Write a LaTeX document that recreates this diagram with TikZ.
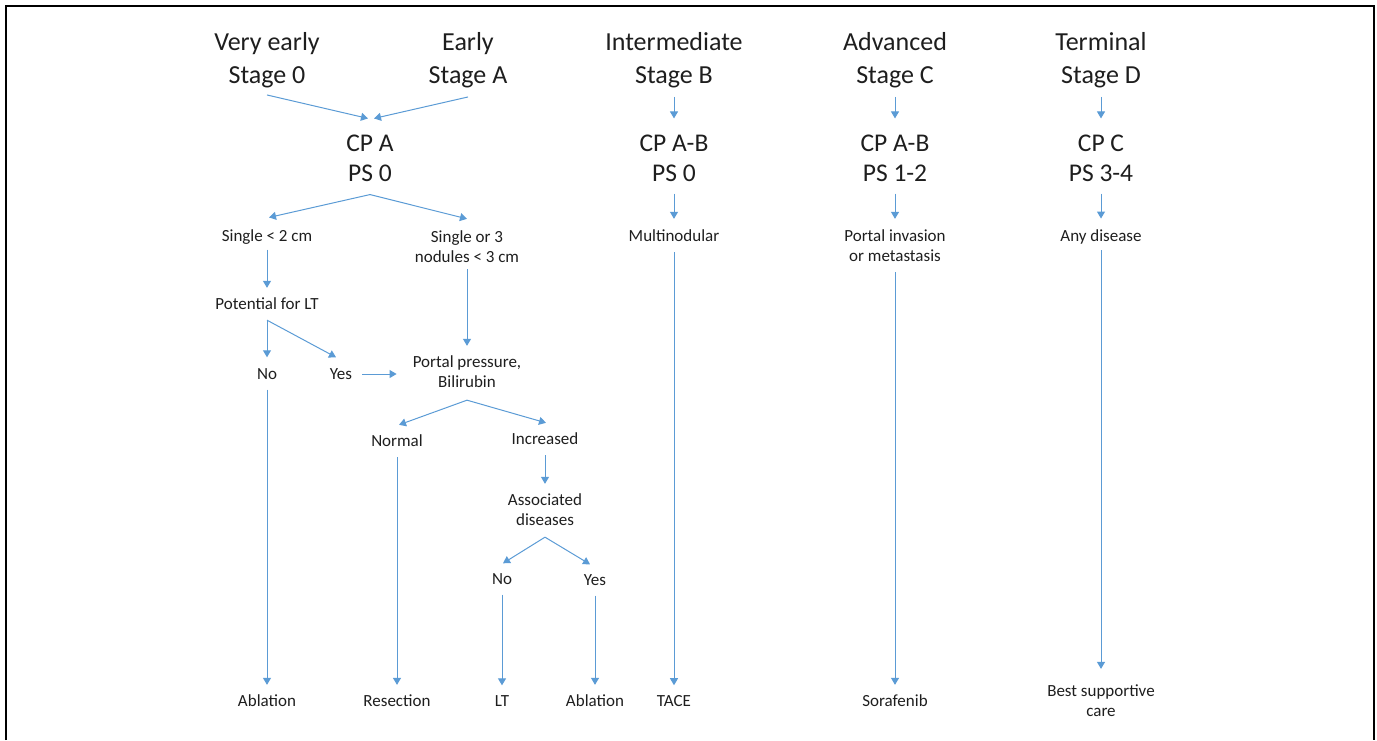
\documentclass[tikz,border=0pt]{standalone}
\usepackage{fontspec}
\setmainfont{Carlito}
\usepackage{xcolor}
\usetikzlibrary{arrows.meta,positioning,calc}
\definecolor{flowblue}{RGB}{91,155,213}
\definecolor{ink}{RGB}{30,30,30}

\begin{document}
\begin{tikzpicture}[x=1pt,y=-1pt,
    stage/.style={align=center,inner sep=0pt,text=ink,font=\fontsize{26}{33}\selectfont},
    cp/.style={align=center,inner sep=0pt,text=ink,font=\fontsize{25.5}{30}\selectfont},
    lbl/.style={align=center,inner sep=0pt,text=ink,font=\fontsize{17}{20}\selectfont},
    arr/.style={-{Triangle[length=7pt,width=8pt]},flowblue,line width=1pt,shorten <=10pt,shorten >=10pt},
    fork/.style={arr,shorten <=0pt,shorten >=0pt}]
    \useasboundingbox (0,0) rectangle (1377,740);
    \draw [line width=2pt] (6,740) -- (6,5.5) -- (1373.5,5.5) -- (1373.5,740); % frame

    % Stages
    \node [stage] (v0) at (267,60) {Very early\\Stage 0};
    \node [stage] (ea) at (468,60) {Early\\Stage A};
    \node [stage] (im) at (674,60) {Intermediate\\Stage B};
    \node [stage] (ad) at (895,60) {Advanced\\Stage C};
    \node [stage] (te) at (1101,60) {Terminal\\Stage D};

    % Child-Pugh and performance status
    \node [cp] (cpa) at (370,158) {CP A\\PS 0};
    \node [cp] (cpb) at (674,158) {CP A-B\\PS 0};
    \node [cp] (cpc) at (895,158) {CP A-B\\PS 1-2};
    \node [cp] (cpd) at (1101,158) {CP C\\PS 3-4};

    \draw [fork] ([yshift=-7pt]v0.south) -- ([xshift=-2pt,yshift=16pt]cpa.north);
    \draw [fork] ([yshift=-9pt]ea.south) -- ([xshift=4pt,yshift=16pt]cpa.north);
    \draw [arr, shorten <=9pt, shorten >=16pt] (im) -- (cpb);
    \draw [arr, shorten <=9pt, shorten >=16pt] (ad) -- (cpc);
    \draw [arr, shorten <=9pt, shorten >=16pt] (te) -- (cpd);

    % Early branch
    \node [lbl] (s2) at (267,237) {Single < 2 cm};
    \node [lbl] (s3) at (467,247) {Single or 3\\nodules < 3 cm};
    \node [lbl] (plt) at (267,304) {Potential for LT};
    \node [lbl] (no1) at (267,374) {No};
    \node [lbl] (yes1) at (341,374) {Yes};
    \node [lbl] (pp) at (467,372) {Portal pressure,\\Bilirubin};
    \node [lbl] (nor) at (397,441) {Normal};
    \node [lbl] (inc) at (545,439) {Increased};
    \node [lbl] (asd) at (545,510) {Associated\\diseases};
    \node [lbl] (no2) at (502,579) {No};
    \node [lbl] (yes2) at (595,580) {Yes};

    \draw [fork] ([yshift=-13pt]cpa.south) -- ([xshift=2pt,yshift=12pt]s2.north);
    \draw [fork] ([yshift=-13pt]cpa.south) -- ([yshift=12pt]s3.north);
    \draw [arr, shorten <=5pt] (s2) -- (plt);
    \draw [arr, shorten <=6pt] (s3) -- (pp);
    \draw [fork] ([yshift=-10pt]plt.south) -- ([yshift=11pt]no1.north);
    \draw [fork] ([yshift=-10pt]plt.south) -- ([xshift=-5pt,yshift=11pt]yes1.north);
    \draw [arr, shorten >=16pt] (yes1.east) -- (yes1.east -| pp.west);
    \draw [fork] ([yshift=-12pt]pp.south) -- ([xshift=2pt,yshift=10pt]nor.north);
    \draw [fork] ([yshift=-12pt]pp.south) -- ([xshift=1pt,yshift=10pt]inc.north);
    \draw [arr] (inc) -- (asd);
    \draw [fork] ([yshift=-11pt]asd.south) -- ([xshift=1pt,yshift=10pt]no2.north);
    \draw [fork] ([yshift=-11pt]asd.south) -- ([xshift=-5pt,yshift=10pt]yes2.north);

    % Other stages
    \node [lbl] (mn) at (674,236) {Multinodular};
    \node [lbl] (pi) at (895,246) {Portal invasion\\or metastasis};
    \node [lbl] (any) at (1101,237) {Any disease};

    \draw [arr, shorten <=12pt, shorten >=11pt] (cpb) -- (mn);
    \draw [arr, shorten <=12pt, shorten >=11pt] (cpc) -- (pi);
    \draw [arr, shorten <=12pt, shorten >=11pt] (cpd) -- (any);

    % Treatments
    \node [lbl] (abl1) at (267,701) {Ablation};
    \node [lbl] (res) at (397,701) {Resection};
    \node [lbl] (lt) at (502,701) {LT};
    \node [lbl] (abl2) at (595,701) {Ablation};
    \node [lbl] (tace) at (674,701) {TACE};
    \node [lbl] (sor) at (895,701) {Sorafenib};
    \node [lbl] (bsc) at (1101,701) {Best supportive\\care};

    \draw [arr] (no1) -- (abl1);
    \draw [arr] (nor) -- (res);
    \draw [arr] (no2) -- (lt);
    \draw [arr] (yes2) -- (abl2);
    \draw [arr] (mn) -- (tace);
    \draw [arr] (pi) -- (sor);
    \draw [arr, shorten <=6pt, shorten >=16pt] (any) -- (bsc);
\end{tikzpicture}
\end{document}
